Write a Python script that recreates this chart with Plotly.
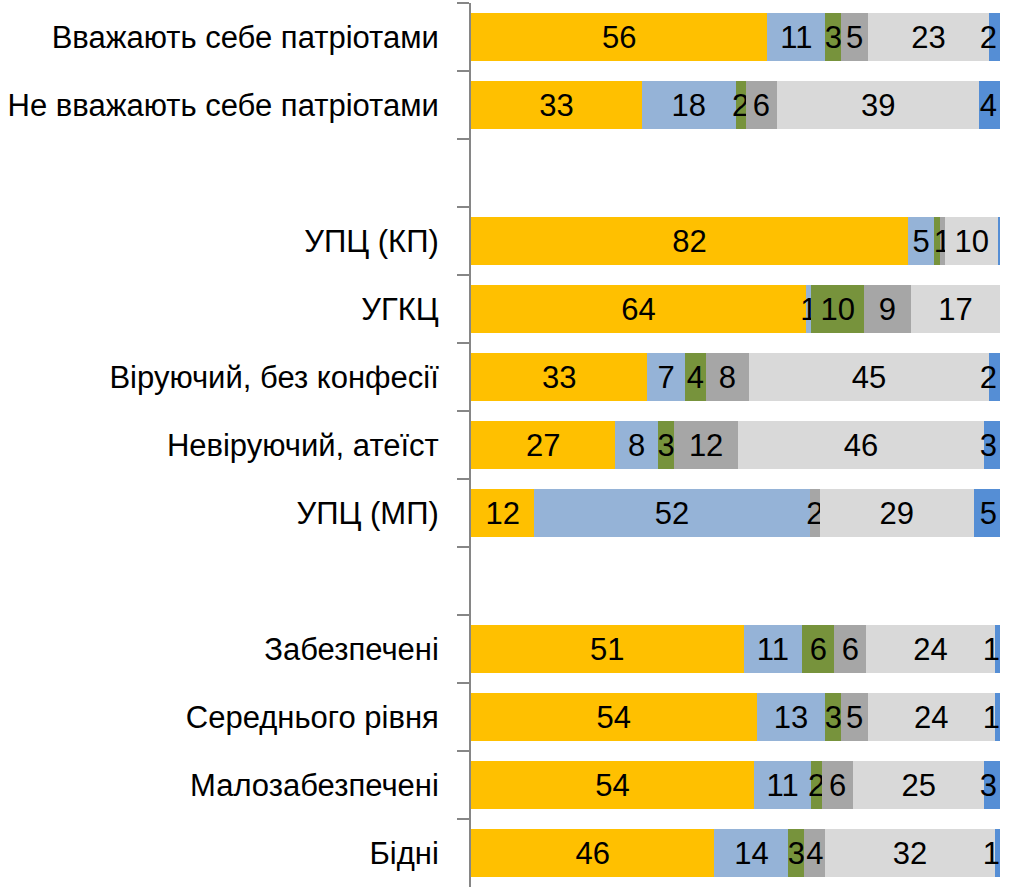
import plotly.graph_objects as go

# categories top to bottom, with blank slots for the gaps between groups
categories = [
    "Вважають себе патріотами",
    "Не вважають себе патріотами",
    " ",
    "УПЦ (КП)",
    "УГКЦ",
    "Віруючий, без конфесії",
    "Невіруючий, атеїст",
    "УПЦ (МП)",
    "  ",
    "Забезпечені",
    "Середнього рівня",
    "Малозабезпечені",
    "Бідні",
]

# series values (None = no bar on gap rows)
s1 = [56, 33, None, 82, 64, 33, 27, 12, None, 51, 54, 54, 46]
s2 = [11, 18, None, 5, 1, 7, 8, 52, None, 11, 13, 11, 14]
s3 = [3, 2, None, 1, 10, 4, 3, 0, None, 6, 3, 2, 3]
s4 = [5, 6, None, 1, 9, 8, 12, 2, None, 6, 5, 6, 4]
s5 = [23, 39, None, 10, 17, 45, 46, 29, None, 24, 24, 25, 32]
s6 = [2, 4, None, 0.3, 0, 2, 3, 5, None, 1, 1, 3, 1]

# labels shown on the bars (blank where the picture shows none)
t1 = ["56", "33", "", "82", "64", "33", "27", "12", "", "51", "54", "54", "46"]
t2 = ["11", "18", "", "5", "1", "7", "8", "52", "", "11", "13", "11", "14"]
t3 = ["3", "2", "", "", "10", "4", "3", "", "", "6", "3", "2", "3"]
t4 = ["5", "6", "", "1", "9", "8", "12", "2", "", "6", "5", "6", "4"]
t5 = ["23", "39", "", "10", "17", "45", "46", "29", "", "24", "24", "25", "32"]
t6 = ["2", "4", "", "", "", "2", "3", "5", "", "1", "1", "3", "1"]

series = [
    (s1, t1, "#FFC000", "middle"),
    (s2, t2, "#95B3D7", "middle"),
    (s3, t3, "#77933C", "middle"),
    (s4, t4, "#A6A6A6", "middle"),
    (s5, t5, "#D9D9D9", "middle"),
    (s6, t6, "#558ED5", "end"),
]

fig = go.Figure()
for vals, txt, col, anchor in series:
    fig.add_trace(go.Bar(
        y=categories,
        x=vals,
        orientation="h",
        marker=dict(color=col, line=dict(width=0)),
        text=txt,
        textposition="inside",
        insidetextanchor=anchor,
        textangle=0,
        textfont=dict(family="Liberation Sans, Arial, sans-serif", size=31, color="black"),
        cliponaxis=False,
        showlegend=False,
    ))

fig.update_layout(
    barmode="stack",
    barnorm="percent",
    bargap=0.28,
    width=1010,
    height=887,
    margin=dict(l=471, r=10, t=3, b=0),
    paper_bgcolor="white",
    plot_bgcolor="white",
    uniformtext=dict(minsize=31, mode="show"),
)
fig.update_xaxes(range=[0, 100], visible=False, fixedrange=True)
fig.update_yaxes(
    categoryorder="array",
    categoryarray=categories,
    autorange="reversed",
    showline=True,
    linecolor="#868686",
    linewidth=2,
    ticks="outside",
    tickson="boundaries",
    ticklen=12,
    tickwidth=2,
    tickcolor="#868686",
    ticklabelstandoff=24,
    showgrid=False,
    tickfont=dict(family="Liberation Sans, Arial, sans-serif", size=31, color="black"),
)

# page body has a default 8px margin; drop it so the figure sits at the corner
fig.write_html("out.html", config={"displayModeBar": False},
               post_script="document.body.style.margin='0px';")
